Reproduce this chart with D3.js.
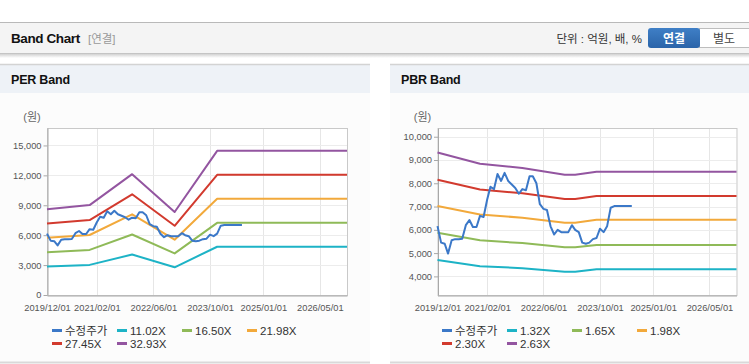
<!DOCTYPE html>
<html>
<head>
<meta charset="utf-8">
<script src="https://cdn.jsdelivr.net/npm/d3@7"></script>
<style>
  html, body { margin: 0; padding: 0; background: #fff; }
  svg { display: block; font-family: 'Liberation Sans', 'Noto Sans CJK KR', sans-serif; }
</style>
</head>
<body>
<svg id="chart" width="749" height="364"></svg>
<script>
// Band chart - PER / PBR bands with adjusted price

const priceMonths = [
  '2019-12',
  '2020-01','2020-02','2020-03','2020-04','2020-05','2020-06','2020-07','2020-08','2020-09','2020-10','2020-11','2020-12',
  '2021-01','2021-02','2021-03','2021-04','2021-05','2021-06','2021-07','2021-08','2021-09','2021-10','2021-11','2021-12',
  '2022-01','2022-02','2022-03','2022-04','2022-05','2022-06','2022-07','2022-08','2022-09','2022-10','2022-11','2022-12',
  '2023-01','2023-02','2023-03','2023-04','2023-05','2023-06','2023-07','2023-08','2023-09','2023-10','2023-11','2023-12',
  '2024-01','2024-02','2024-03','2024-04','2024-05','2024-06','2024-07'
];
const price = [
  6160,
  5450, 5400, 4980, 5550, 5600, 5600, 5620, 6200, 6420, 6120, 6120, 6600,
  6550, 7300, 7850, 7750, 8400, 8100, 8450, 8100, 7950, 7800, 7550, 7750,
  7700, 8300, 8300, 8000, 7100, 6900, 6850, 6150, 5800, 6000, 5900, 5900,
  5900, 6200, 6000, 5900, 5450, 5400, 5450, 5600, 5650, 6050, 5900, 6150,
  6950, 7020, 7020, 7020, 7020, 7020, 7020
];

// PER band anchor dates and values
const perDates = ['2019-12-01','2020-12-01','2021-12-01','2022-12-01','2023-12-01','2026-12-20'];
const per1102 = [2870, 3020, 4060, 2780, 4840, 4840];
const per1650 = [4300, 4520, 6070, 4170, 7240, 7240];
const per2198 = [5730, 6020, 8090, 5550, 9650, 9650];
const per2745 = [7160, 7520, 10100, 6940, 12050, 12050];
const per3293 = [8590, 9020, 12120, 8320, 14460, 14460];

// PBR band anchor dates and values
const pbrDates = ['2019-12-01','2020-12-01','2021-12-01','2022-12-01','2023-03-01','2023-09-01','2026-12-20'];
const pbr132 = [4700, 4440, 4350, 4200, 4200, 4310, 4310];
const pbr165 = [5870, 5550, 5430, 5250, 5250, 5350, 5350];
const pbr198 = [7020, 6660, 6520, 6300, 6300, 6430, 6430];
const pbr230 = [8150, 7730, 7570, 7320, 7320, 7450, 7450];
const pbr263 = [9320, 8840, 8660, 8370, 8370, 8500, 8500];

const xTickLabels = ['2019/12/01','2021/02/01','2022/06/01','2023/10/01','2025/01/01','2026/05/01'];
const perTicks = [0, 3000, 6000, 9000, 12000, 15000];
const pbrTicks = [4000, 5000, 6000, 7000, 8000, 9000, 10000];

const perLegend = ['수정주가', '11.02X', '16.50X', '21.98X', '27.45X', '32.93X'];
const pbrLegend = ['수정주가', '1.32X', '1.65X', '1.98X', '2.30X', '2.63X'];

const colors = ['#3b78c8', '#1db3c6', '#8fba58', '#f2a93b', '#d23a2e', '#9355a0'];

const parseDay = d3.timeParse('%Y-%m-%d');
const parseMonth = d3.timeParse('%Y-%m');
const parseTick = d3.timeParse('%Y/%m/%d');

const svg = d3.select('#chart');

// defs
const defs = svg.append('defs');
const shadow = defs.append('linearGradient').attr('id', 'hdrShadow').attr('x1', 0).attr('x2', 0).attr('y1', 0).attr('y2', 1);
shadow.append('stop').attr('offset', '0%').attr('stop-color', '#d2d2d2');
shadow.append('stop').attr('offset', '100%').attr('stop-color', '#ffffff');
const btn = defs.append('linearGradient').attr('id', 'btnBlue').attr('x1', 0).attr('x2', 0).attr('y1', 0).attr('y2', 1);
btn.append('stop').attr('offset', '0%').attr('stop-color', '#3f7fc6');
btn.append('stop').attr('offset', '100%').attr('stop-color', '#2a64a9');

// Top header bar
svg.append('rect').attr('x', 0).attr('y', 22).attr('width', 749).attr('height', 31).attr('fill', '#f4f4f4');
svg.append('line').attr('x1', 0).attr('x2', 749).attr('y1', 22.5).attr('y2', 22.5).attr('stroke', '#b9b9b9');
svg.append('line').attr('x1', 0).attr('x2', 749).attr('y1', 53.5).attr('y2', 53.5).attr('stroke', '#c4c4c4');
svg.append('rect').attr('x', 0).attr('y', 54).attr('width', 749).attr('height', 4).attr('fill', 'url(#hdrShadow)');

svg.append('text').attr('x', 11).attr('y', 42.5)
  .attr('font-size', '13.5px').attr('font-weight', 'bold').attr('letter-spacing', '-0.4')
  .attr('fill', '#111').text('Band Chart');
svg.append('text').attr('x', 88).attr('y', 42.5)
  .attr('font-size', '11.5px').attr('fill', '#999').text('[연결]');

svg.append('text').attr('x', 642).attr('y', 42.5).attr('text-anchor', 'end')
  .attr('font-size', '11.5px').attr('fill', '#333').text('단위 : 억원, 배, %');

svg.append('rect').attr('x', 699.5).attr('y', 28.5).attr('width', 52).attr('height', 19)
  .attr('fill', '#fff').attr('stroke', '#bdbdbd');
svg.append('rect').attr('x', 648).attr('y', 28).attr('width', 52).attr('height', 20).attr('rx', 3)
  .attr('fill', 'url(#btnBlue)');
svg.append('text').attr('x', 674).attr('y', 42.5).attr('text-anchor', 'middle')
  .attr('font-size', '12px').attr('font-weight', 'bold').attr('fill', '#fff').text('연결');
svg.append('text').attr('x', 724).attr('y', 42.5).attr('text-anchor', 'middle')
  .attr('font-size', '12px').attr('fill', '#444').text('별도');

function drawPanel(cfg) {
  const g = svg.append('g').attr('transform', `translate(${cfg.x0},0)`);
  const w = cfg.width;

  // panel frame
  g.append('rect').attr('x', 0).attr('y', 64).attr('width', w).attr('height', 29).attr('fill', '#eef2f7');
  g.append('line').attr('x1', 0).attr('x2', w).attr('y1', 64.5).attr('y2', 64.5).attr('stroke', '#d3d3d3').attr('stroke-width', 1.5);
  g.append('rect').attr('x', 0).attr('y', 93).attr('width', w).attr('height', 269).attr('fill', '#fcfcfc');
  g.append('line').attr('x1', 0).attr('x2', w).attr('y1', 362.5).attr('y2', 362.5).attr('stroke', '#d9d9d9').attr('stroke-width', 2);
  g.append('text').attr('x', 11).attr('y', 84)
    .attr('font-size', '12.5px').attr('font-weight', 'bold').attr('letter-spacing', '-0.2')
    .attr('fill', '#111').text(cfg.title);

  const x = d3.scaleTime()
    .domain([parseDay('2019-12-01'), parseDay('2026-12-20')])
    .range([cfg.left, cfg.right]);
  const y = d3.scaleLinear().domain(cfg.yDomain).range([295, 128]);

  // plot background + grid
  g.append('rect').attr('x', cfg.left).attr('y', 128).attr('width', cfg.right - cfg.left).attr('height', 167)
    .attr('fill', '#fff');
  const tickDates = xTickLabels.map(parseTick);
  g.append('g').selectAll('line').data(tickDates.slice(1)).enter().append('line')
    .attr('x1', d => Math.round(x(d)) + 0.5).attr('x2', d => Math.round(x(d)) + 0.5)
    .attr('y1', 128).attr('y2', 295).attr('stroke', '#e6e6e6');
  g.append('g').selectAll('line').data(cfg.yTicks).enter().append('line')
    .attr('x1', cfg.left).attr('x2', cfg.right)
    .attr('y1', d => Math.round(y(d)) + 0.5).attr('y2', d => Math.round(y(d)) + 0.5)
    .attr('stroke', '#ececec');
  g.append('rect').attr('x', cfg.left + 0.5).attr('y', 128.5).attr('width', cfg.right - cfg.left).attr('height', 167)
    .attr('fill', 'none').attr('stroke', '#c9c9c9');

  // axes
  const yAxis = g.append('g').attr('transform', `translate(${cfg.left + 0.5},0)`)
    .call(d3.axisLeft(y).tickValues(cfg.yTicks).tickSize(4).tickSizeOuter(0).tickFormat(d3.format(',')));
  yAxis.select('.domain').attr('stroke', '#a8a8a8');
  yAxis.selectAll('.tick line').attr('stroke', '#a8a8a8');
  yAxis.selectAll('.tick text').attr('font-size', '9.3px').attr('fill', '#555')
    .attr('font-family', "'Liberation Sans', sans-serif").attr('x', -6);

  const xAxis = g.append('g').attr('transform', 'translate(0,295.5)')
    .call(d3.axisBottom(x).tickValues(tickDates).tickSize(0).tickSizeOuter(0).tickFormat(d3.timeFormat('%Y/%m/%d')));
  xAxis.select('.domain').attr('stroke', '#a8a8a8');
  xAxis.selectAll('.tick text').attr('font-size', '9.3px').attr('fill', '#555')
    .attr('font-family', "'Liberation Sans', sans-serif").attr('dy', '0').attr('y', 15);

  g.append('text').attr('x', cfg.left - 15).attr('y', 121).attr('text-anchor', 'middle')
    .attr('font-size', '11px').attr('fill', '#666').text('(원)');

  // bands
  const bandDates = cfg.bandDates.map(parseDay);
  const line = d3.line().x(d => x(d[0])).y(d => y(d[1]));
  const series = [
    price.map((v, i) => [parseMonth(priceMonths[i]), v]),
    ...cfg.bands.map(vals => vals.map((v, i) => [bandDates[i], v]))
  ];
  const order = [1, 2, 3, 4, 5, 0];
  g.append('g').selectAll('path').data(order).enter().append('path')
    .attr('d', i => line(series[i]))
    .attr('fill', 'none')
    .attr('stroke', i => colors[i])
    .attr('stroke-width', 2)
    .attr('stroke-linejoin', 'round');

  // legend
  const legX = [52, 117, 182, 247];
  const legY = [330.5, 343.5];
  const leg = g.append('g').selectAll('g').data(cfg.legend).enter().append('g')
    .attr('transform', (d, i) => `translate(${legX[i % 4]},${legY[Math.floor(i / 4)]})`);
  leg.append('rect').attr('x', 0).attr('y', -1.5).attr('width', 10).attr('height', 3)
    .attr('fill', (d, i) => colors[i]);
  leg.append('text').attr('x', 13).attr('y', 4.5)
    .attr('font-size', '11.5px').attr('fill', '#333').text(d => d);
}

drawPanel({
  x0: 0, width: 370, title: 'PER Band',
  left: 47, right: 347,
  yDomain: [0, 16750], yTicks: perTicks,
  bandDates: perDates,
  bands: [per1102, per1650, per2198, per2745, per3293],
  legend: perLegend
});

drawPanel({
  x0: 390, width: 359, title: 'PBR Band',
  left: 47.5, right: 346.5,
  yDomain: [3200, 10375], yTicks: pbrTicks,
  bandDates: pbrDates,
  bands: [pbr132, pbr165, pbr198, pbr230, pbr263],
  legend: pbrLegend
});
</script>
</body>
</html>
